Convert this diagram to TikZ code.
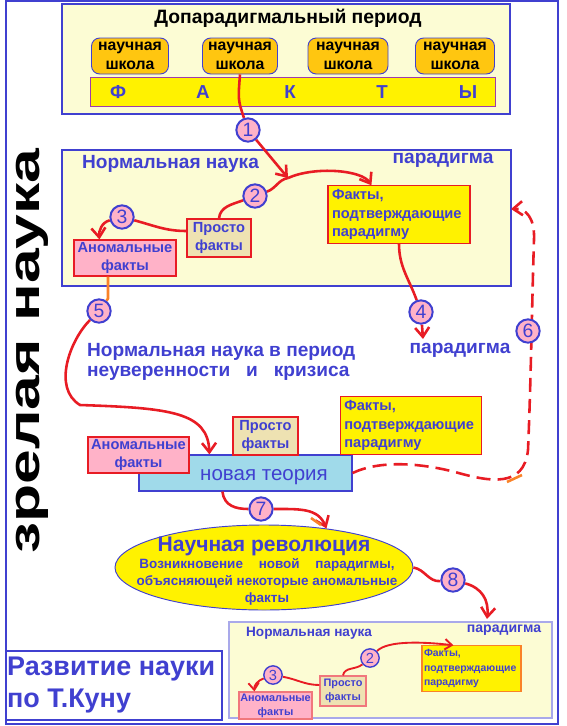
\documentclass[tikz,border=0pt]{standalone}
\usepackage{fontspec}
\setmainfont{Liberation Sans}
\usetikzlibrary{shapes.geometric,arrows.meta,calc,positioning}

\definecolor{kblue}{RGB}{64,64,208}
\definecolor{kred}{RGB}{232,28,36}
\definecolor{kpale}{RGB}{252,252,212}
\definecolor{kyellow}{RGB}{255,242,0}
\definecolor{korange}{RGB}{255,198,16}
\definecolor{kpink}{RGB}{255,178,200}
\definecolor{ktan}{RGB}{238,226,178}
\definecolor{kcyan}{RGB}{160,218,234}
\definecolor{kpurple}{RGB}{160,60,170}
\definecolor{kamber}{RGB}{250,130,40}

\pgfdeclarelayer{front}
\pgfsetlayers{main,front}

\begin{document}
\begin{tikzpicture}[x=0.03cm, y=-0.03cm,
    every node/.style={font=\bfseries, text=kblue},
    field/.style={draw=kblue, fill=kpale, line width=1pt},
    wd/.style={minimum width=#1*0.03cm},
    ht/.style={minimum height=#1*0.03cm},
    school/.style={draw=kblue, fill=korange, rounded corners=7pt, line width=0.8pt,
        text=black, align=center, inner sep=0pt,
        font=\fontsize{13.5}{16}\selectfont\bfseries},
    factbox/.style={draw=kred, fill=kyellow, line width=1pt, inner xsep=0.12cm,
        align=left, font=\fontsize{12.5}{15.5}\selectfont\bfseries},
    simplebox/.style={draw=kred, fill=ktan, line width=1pt, inner sep=0pt,
        align=center, font=\fontsize{12.5}{15.5}\selectfont\bfseries},
    anombox/.style={draw=kred, fill=kpink, line width=1pt, inner sep=0pt,
        align=center, font=\fontsize{12.5}{15.5}\selectfont\bfseries},
    num/.style={circle, draw=kblue, fill=kpink, line width=1.7pt, inner sep=0pt,
        minimum size=0.7cm, font=\fontsize{16.5}{16.5}\selectfont},
    smallnum/.style={num, line width=1.2pt, minimum size=0.55cm,
        font=\fontsize{12.5}{12.5}\selectfont},
    bigtext/.style={font=\fontsize{16.3}{17}\selectfont\bfseries},
    redline/.style={kred, line width=2.2pt},
    redarrow/.style={redline, -{Straight Barb[length=8pt,width=12pt]}},
    thinred/.style={kred, line width=1.6pt},
    thinarrow/.style={thinred, -{Straight Barb[length=6pt,width=9pt]}},
    orangeline/.style={kamber, line width=2.2pt}]

    \useasboundingbox (0,0) rectangle (567,726);

    % Outer frame and title box
    \draw[kblue, line width=1pt] (6,1) rectangle (558,724);
    \draw[kblue, line width=1pt] (6,651) -- (222,651) -- (222,720) -- (6,720);
    \node[anchor=west, align=left, font=\fontsize{23}{27}\selectfont\bfseries] (kuhn) at (3,685) {Развитие науки\\по Т.Куну};

    % Mature science
    \node[rotate=90, text=black, font=\fontsize{37}{37}\selectfont\bfseries] (mature) at (32,351) {\scalebox{1.44}[1]{зрелая наука}};

    % Numbered steps
    \begin{pgfonlayer}{front}
    \node[num] (c1) at (248,130) {1};
    \node[num] (c2) at (255,196) {2};
    \node[num] (c3) at (122,217) {3};
    \node[num] (c4) at (421,312) {4};
    \node[num] (c5) at (99,311) {5};
    \node[num] (c6) at (528,331) {6};
    \node[num] (c7) at (261,509) {7};
    \node[num] (c8) at (453,580) {8};
    \node[smallnum] (c2b) at (370,658) {2};
    \node[smallnum] (c3b) at (273,675) {3};
    \end{pgfonlayer}

    % Pre-paradigm period
    \path[field] (62,4) rectangle (510,114);
    \node[text=black, font=\fontsize{16.5}{18}\selectfont\bfseries] (pretitle) at (288,18) {Допарадигмальный период};
    \node[school, wd=77, ht=36] (s1) at (130,56) {научная\\школа};
    \node[school, wd=75, ht=36] (s2) at (240,56) {научная\\школа};
    \node[school, wd=80, ht=36] (s3) at (348,56) {научная\\школа};
    \node[school, wd=79, ht=36] (s4) at (455,56) {научная\\школа};
    \node[draw=kpurple, fill=kyellow, line width=0.8pt, wd=405, ht=29] (facts) at (292.5,91.5) {};
    \foreach \l/\x in {Ф/118, А/203, К/290, Т/382, Ы/468}
        \node[font=\fontsize{16}{16}\selectfont\bfseries] (l\x) at (\x,92) {\l};

    % Normal science
    \path[field] (62,150) rectangle (511,286);
    \coordinate (normE) at (511,209);
    \node[anchor=west, bigtext] (normtitle) at (78,164) {Нормальная наука};
    \node[bigtext] (par1) at (443,160) {парадигма};
    \node[factbox, wd=142, ht=57, text width=4.02cm] (fact1) at (399,214.5) {Факты,\\подтверждающие\\парадигму};
    \node[simplebox, wd=64, ht=38] (simple1) at (219,238) {Просто\\факты};
    \node[anombox, wd=102, ht=36] (anom1) at (125,258) {Аномальные\\факты};

    % Crisis
    \node[anchor=west, align=left, bigtext] (crisis) at (83,362) {Нормальная наука в период\\неуверенности~~~и~~~кризиса};
    \node[bigtext] (par2) at (460,350) {парадигма};
    \coordinate (a4end) at (423,339);

    \node[draw=kblue, fill=kcyan, line width=1pt, wd=213, ht=36] (newth) at (245.5,473) {};
    \node[font=\fontsize{17.5}{18}\selectfont] (newtxt) at (264,477) {новая теория};
    \node[anombox, wd=101, ht=36] (anom2) at (138.5,455) {Аномальные\\факты};
    \node[simplebox, wd=65, ht=38] (simple2) at (265.5,436) {Просто\\факты};
    \node[factbox, wd=140, ht=57, text width=4.0cm] (fact2) at (411,425.5) {Факты,\\подтверждающие\\парадигму};

    % Scientific revolution
    \node[ellipse, draw=kblue, fill=kyellow, line width=0.8pt, wd=298, ht=85] (rev) at (264,567.5) {};
    \node[font=\fontsize{18}{18}\selectfont\bfseries] (revtitle) at (264,546) {Научная революция};
    \node[align=center, font=\fontsize{11.5}{14.5}\selectfont\bfseries] (revtxt) at (267,582) {\makebox[7.65cm][s]{Возникновение новой парадигмы,}\\объясняющей некоторые аномальные\\факты};
    \coordinate (a8end) at (487,619);

    % Normal science again
    \path[draw=kblue!45, fill=kpale, line width=1pt] (229,622) rectangle (552,718);
    \node[anchor=west, font=\fontsize{11.6}{12}\selectfont\bfseries] (normtitle3) at (242,633) {Нормальная наука};
    \node[font=\fontsize{12}{12}\selectfont\bfseries] (par3) at (504,630) {парадигма};
    \node[factbox, draw=kamber, wd=99, ht=41, text width=2.85cm, inner xsep=0.06cm,
        font=\fontsize{8.9}{12}\selectfont\bfseries] (fact3) at (471.5,668.5) {Факты,\\подтверждающие\\парадигму};
    \node[simplebox, draw=kred!60, wd=46, ht=30, font=\fontsize{9.3}{12}\selectfont\bfseries] (simple3) at (343,691) {Просто\\факты};
    \node[anombox, draw=kred!60, wd=73, ht=27, font=\fontsize{9.3}{12}\selectfont\bfseries] (anom3) at (275.5,705.5) {Аномальные\\факты};

    % Connectors
    \coordinate (j1) at (288,178);
    \draw[redline] (s2.south) .. controls (238,100) .. (c1);
    \draw[redarrow] (c1) -- (j1);
    \draw[redline] (simple1.north) to[out=85,in=200] (c2);
    \draw[redline] (c2) to[out=20,in=190] (j1);
    \draw[redarrow] (j1) .. controls (315,166) and (362,170) .. ($(fact1.north west)+(44,0)$);
    \draw[redline] ($(simple1.west)+(0,-7)$) to[out=180,in=-15] (c3);
    \draw[redarrow] (c3) to[out=195,in=95] ($(anom1.north west)+(26,0)$);
    \draw[redline] (fact1.south) to[out=-90,in=110] (c4);
    \draw[redarrow] (c4) -- (a4end);
    \draw[orangeline] ($(anom1.south)+(-17,0)$) -- ++(0,22) -- (c5);
    \draw[redarrow] (c5) .. controls (70,340) and (52,388) .. (80,405)
        .. controls (170,408) and (208,412) .. ($(newth.north west)+(71,0)$);
    \draw[redarrow, dash pattern=on 12pt off 6pt] (newth.east) .. controls (380,460) and (420,463) .. (455,472)
        .. controls (490,482) and (524,488) .. (528,450)
        .. controls (531,380) and (532,300) .. (534,240)
        .. controls (535,218) and (526,208) .. (normE);
    \draw[orangeline] (507,482) -- (522,475);
    \draw[redline] ($(newth.south west)+(84,0)$) .. controls (224,506) and (236,509) .. (c7);
    \draw[redarrow] (c7) .. controls (300,509) and (318,508) .. (rev.32);
    \draw[orangeline] (311,518) -- (321,525);
    \draw[redline] (rev.east) to[out=-10,in=185] (c8);
    \draw[redarrow] (c8) .. controls (482,588) and (489,600) .. (a8end);
    \draw[thinred] (simple3.north) to[out=80,in=220] (c2b);
    \draw[thinarrow] (c2b) .. controls (388,640) and (425,642) .. ($(fact3.north west)+(32,0)$);
    \draw[thinred] ($(simple3.west)+(0,-6)$) to[out=180,in=-10] (c3b);
    \draw[thinarrow] (c3b) to[out=200,in=95] ($(anom3.north west)+(16,0)$);
\end{tikzpicture}
\end{document}
